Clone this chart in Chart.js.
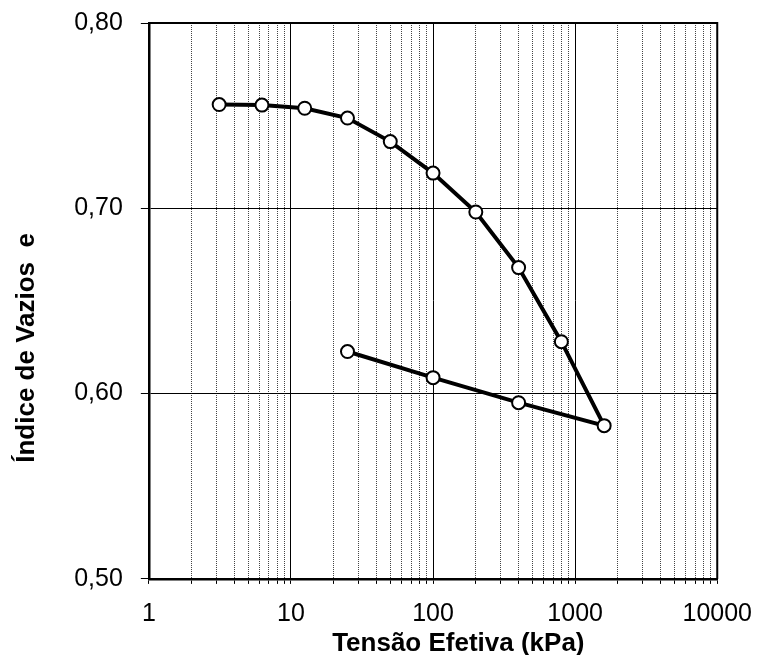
<!DOCTYPE html>
<html>
<head>
<meta charset="utf-8">
<script src="https://cdn.jsdelivr.net/npm/chart.js@4.4.1/dist/chart.umd.min.js"></script>
<style>
  html, body { margin: 0; padding: 0; background: #fff; }
  #box { width: 758px; height: 655px; position: relative; }
</style>
</head>
<body>
<div id="box"><canvas id="grafico"></canvas></div>
<script>
// ensaio de adensamento - carregamento e descarregamento
var tensao = [3.125, 6.25, 12.5, 25, 50, 100, 200, 400, 800, 1600, 400, 100, 25];
var indiceVazios = [0.756, 0.7557, 0.754, 0.7487, 0.736, 0.719, 0.698, 0.668, 0.628, 0.5827, 0.5951, 0.6086, 0.6227];

// marcas do eixo x (escala log): 1..9 em cada decada
var decadas = [1, 10, 100, 1000];
var marcasX = [];
decadas.forEach(function(d) {
	for (var m = 1; m <= 9; m++) marcasX.push(m * d);
});
marcasX.push(10000);

var marcasY = [0.5, 0.6, 0.7, 0.8];

function ehDecada(v) {
	var l = Math.log10(v);
	return Math.abs(l - Math.round(l)) < 1e-9;
}

var pontos = tensao.map(function(t, i) {
	return { x: t, y: indiceVazios[i] };
});

var fonte = "'Liberation Sans', Arial, sans-serif";

// moldura superior e direita
var moldura = {
	id: 'moldura',
	afterDraw: function(chart) {
		var a = chart.chartArea;
		var ctx = chart.ctx;
		ctx.save();
		ctx.strokeStyle = '#000';
		ctx.lineWidth = 2;
		ctx.beginPath();
		ctx.moveTo(a.left, a.top);
		ctx.lineTo(a.right, a.top);
		ctx.lineTo(a.right, a.bottom);
		ctx.stroke();
		ctx.restore();
	}
};

var ctx = document.getElementById('grafico').getContext('2d');
new Chart(ctx, {
	type: 'scatter',
	data: {
		datasets: [{
			label: 'e',
			data: pontos,
			showLine: true,
			borderColor: '#000',
			borderWidth: 4,
			pointRadius: 6.5,
			pointBorderWidth: 2,
			pointBackgroundColor: '#fff',
			pointBorderColor: '#000',
			tension: 0
		}]
	},
	options: {
		responsive: true,
		maintainAspectRatio: false,
		animation: false,
		layout: { padding: { top: 13, right: 35, bottom: 0, left: 0 } },
		plugins: {
			legend: { display: false },
			tooltip: { enabled: false }
		},
		scales: {
			x: {
				type: 'logarithmic',
				min: 1,
				max: 10000,
				afterBuildTicks: function(scale) {
					scale.ticks = marcasX.map(function(v) { return { value: v }; });
				},
				ticks: {
					autoSkip: false,
					maxRotation: 0,
					padding: 6,
					color: '#000',
					font: { family: fonte, size: 25, lineHeight: 1.92 },
					callback: function(v) { return ehDecada(v) ? String(Math.round(v)) : ''; }
				},
				grid: {
					color: function(c) { return c.tick && ehDecada(c.tick.value) ? '#000' : '#444'; },
					lineWidth: 1,
					tickLength: 5,
					tickColor: '#000',
					tickWidth: 1
				},
				border: {
					display: true,
					color: '#000',
					width: 2.5,
					dash: function(c) { return c.tick && !ehDecada(c.tick.value) ? [1, 1] : []; }
				},
				title: {
					display: true,
					text: '\u00a0\u00a0\u00a0\u00a0\u00a0\u00a0\u00a0Tensão Efetiva (kPa)',
					color: '#000',
					font: { family: fonte, size: 26, weight: 'bold', lineHeight: 0.85 },
					padding: { top: -11, bottom: 0 }
				}
			},
			y: {
				min: 0.5,
				max: 0.8,
				afterBuildTicks: function(scale) {
					scale.ticks = marcasY.map(function(v) { return { value: v }; });
				},
				ticks: {
					padding: 18,
					color: '#000',
					font: { family: fonte, size: 25, lineHeight: 0.4 },
					callback: function(v) { return Number(v).toFixed(2).replace('.', ','); }
				},
				grid: {
					color: '#000',
					lineWidth: 1,
					tickLength: 8,
					tickColor: '#000'
				},
				border: { display: true, color: '#000', width: 2.5 },
				title: {
					display: true,
					text: 'Índice de Vazios  e' + '\u00a0'.repeat(13),
					color: '#000',
					font: { family: fonte, size: 26, weight: 'bold', lineHeight: 1.2 },
					padding: { top: 11, bottom: 14 }
				}
			}
		}
	},
	plugins: [moldura]
});
</script>
</body>
</html>
